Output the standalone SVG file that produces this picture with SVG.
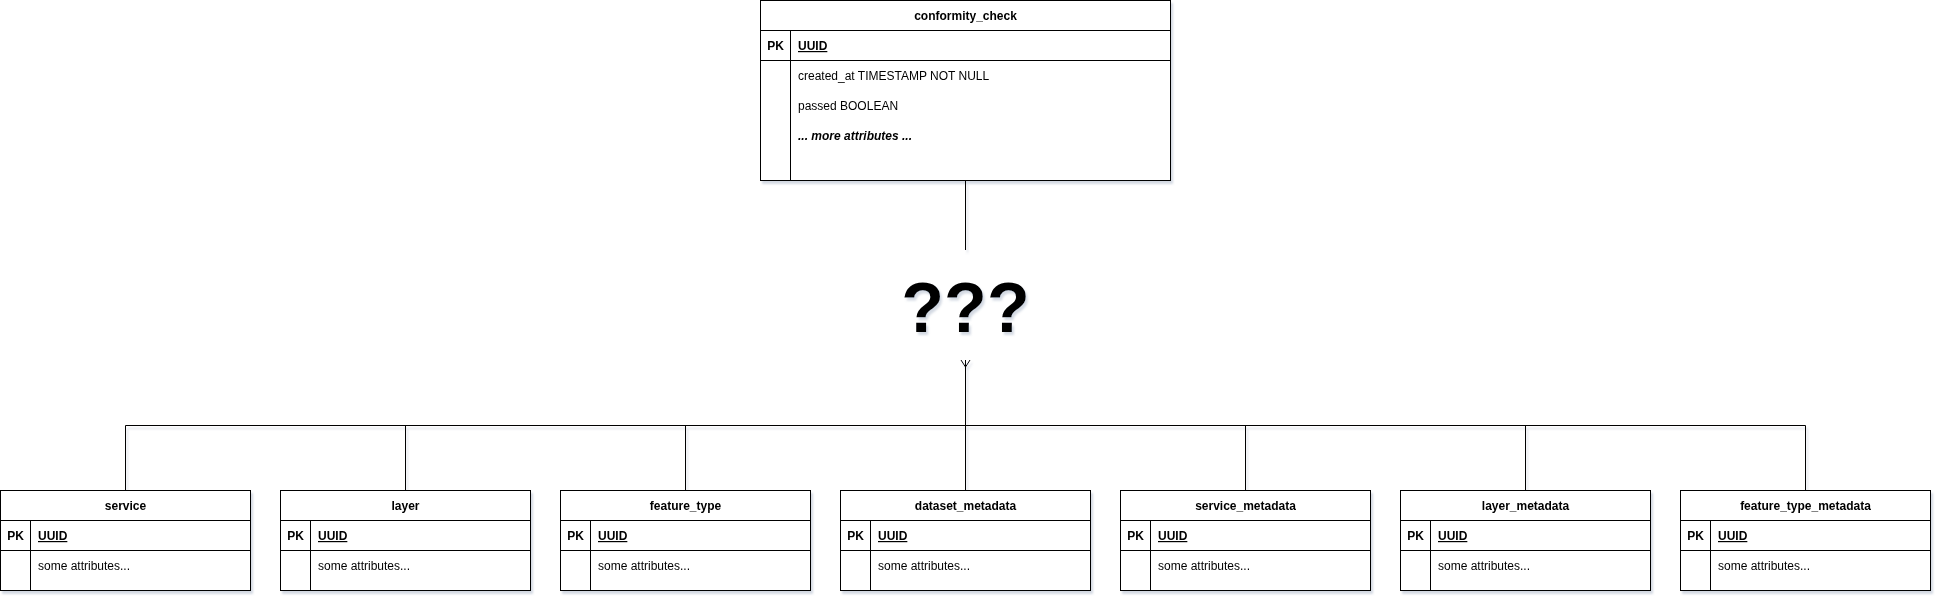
<svg xmlns="http://www.w3.org/2000/svg" width="1942" height="603" viewBox="0 0 1942 603">
  <style>
    .box { fill: #ffffff; stroke: #000000; stroke-width: 1; }
    .ln { stroke: #000000; stroke-width: 1; fill: none; }
    text { font-family: "Liberation Sans", Arial, Helvetica, sans-serif; font-size: 12px; fill: #000000; }
    .title { font-weight: bold; text-anchor: middle; }
    .pk { font-weight: bold; text-anchor: middle; }
    .key { font-weight: bold; text-decoration: underline; }
    .more { font-weight: bold; font-style: italic; }
    .qqq { font-size: 70px; font-weight: bold; text-anchor: middle; }
  </style>
  <defs>
    <filter id="sh" x="-5%" y="-5%" width="115%" height="120%">
      <feDropShadow dx="2" dy="3" stdDeviation="1.2" flood-color="#7080a0" flood-opacity="0.3"/>
    </filter>
    <marker id="many" markerUnits="userSpaceOnUse" markerWidth="12" markerHeight="10" viewBox="0 0 12 10" refX="6" refY="0" orient="0" overflow="visible">
      <path d="M1.5,0 L6,7 L10.5,0 M6,0 L6,7" stroke="#000" stroke-width="1" fill="none"/>
    </marker>
  </defs>

  <g filter="url(#sh)">
    <g id="connectors">
      <line class="ln" x1="965.5" y1="180.5" x2="965.5" y2="250"/>
      <path class="ln" d="M965.5,360 L965.5,425.5" marker-start="url(#many)"/>
      <line class="ln" x1="125.5" y1="425.5" x2="1805.5" y2="425.5"/>
      <line class="ln" x1="125.5" y1="425.5" x2="125.5" y2="490.5"/>
      <line class="ln" x1="405.5" y1="425.5" x2="405.5" y2="490.5"/>
      <line class="ln" x1="685.5" y1="425.5" x2="685.5" y2="490.5"/>
      <line class="ln" x1="965.5" y1="425.5" x2="965.5" y2="490.5"/>
      <line class="ln" x1="1245.5" y1="425.5" x2="1245.5" y2="490.5"/>
      <line class="ln" x1="1525.5" y1="425.5" x2="1525.5" y2="490.5"/>
      <line class="ln" x1="1805.5" y1="425.5" x2="1805.5" y2="490.5"/>
    </g>

    <g id="label-qqq">
      <text class="qqq" x="965.5" y="332">???</text>
    </g>

    <g id="conformity_check">
      <rect class="box" x="760.5" y="0.5" width="410" height="180"/>
      <line class="ln" x1="760.5" y1="30.5" x2="1170.5" y2="30.5"/>
      <line class="ln" x1="760.5" y1="60.5" x2="1170.5" y2="60.5"/>
      <line class="ln" x1="790.5" y1="30.5" x2="790.5" y2="180.5"/>
      <text class="title" x="965.5" y="20">conformity_check</text>
      <text class="pk" x="775.5" y="50">PK</text>
      <text class="key" x="798" y="50">UUID</text>
      <text x="798" y="80">created_at TIMESTAMP NOT NULL</text>
      <text x="798" y="110">passed BOOLEAN</text>
      <text class="more" x="798" y="140">... more attributes ...</text>
    </g>

    <g id="service" transform="translate(0,0)">
      <rect class="box" x="0.5" y="490.5" width="250" height="100"/>
      <line class="ln" x1="0.5" y1="520.5" x2="250.5" y2="520.5"/>
      <line class="ln" x1="0.5" y1="550.5" x2="250.5" y2="550.5"/>
      <line class="ln" x1="30.5" y1="520.5" x2="30.5" y2="590.5"/>
      <text class="title" x="125.5" y="510">service</text>
      <text class="pk" x="15.5" y="540">PK</text>
      <text class="key" x="38" y="540">UUID</text>
      <text x="38" y="570">some attributes...</text>
    </g>

    <g id="layer" transform="translate(280,0)">
      <rect class="box" x="0.5" y="490.5" width="250" height="100"/>
      <line class="ln" x1="0.5" y1="520.5" x2="250.5" y2="520.5"/>
      <line class="ln" x1="0.5" y1="550.5" x2="250.5" y2="550.5"/>
      <line class="ln" x1="30.5" y1="520.5" x2="30.5" y2="590.5"/>
      <text class="title" x="125.5" y="510">layer</text>
      <text class="pk" x="15.5" y="540">PK</text>
      <text class="key" x="38" y="540">UUID</text>
      <text x="38" y="570">some attributes...</text>
    </g>

    <g id="feature_type" transform="translate(560,0)">
      <rect class="box" x="0.5" y="490.5" width="250" height="100"/>
      <line class="ln" x1="0.5" y1="520.5" x2="250.5" y2="520.5"/>
      <line class="ln" x1="0.5" y1="550.5" x2="250.5" y2="550.5"/>
      <line class="ln" x1="30.5" y1="520.5" x2="30.5" y2="590.5"/>
      <text class="title" x="125.5" y="510">feature_type</text>
      <text class="pk" x="15.5" y="540">PK</text>
      <text class="key" x="38" y="540">UUID</text>
      <text x="38" y="570">some attributes...</text>
    </g>

    <g id="dataset_metadata" transform="translate(840,0)">
      <rect class="box" x="0.5" y="490.5" width="250" height="100"/>
      <line class="ln" x1="0.5" y1="520.5" x2="250.5" y2="520.5"/>
      <line class="ln" x1="0.5" y1="550.5" x2="250.5" y2="550.5"/>
      <line class="ln" x1="30.5" y1="520.5" x2="30.5" y2="590.5"/>
      <text class="title" x="125.5" y="510">dataset_metadata</text>
      <text class="pk" x="15.5" y="540">PK</text>
      <text class="key" x="38" y="540">UUID</text>
      <text x="38" y="570">some attributes...</text>
    </g>

    <g id="service_metadata" transform="translate(1120,0)">
      <rect class="box" x="0.5" y="490.5" width="250" height="100"/>
      <line class="ln" x1="0.5" y1="520.5" x2="250.5" y2="520.5"/>
      <line class="ln" x1="0.5" y1="550.5" x2="250.5" y2="550.5"/>
      <line class="ln" x1="30.5" y1="520.5" x2="30.5" y2="590.5"/>
      <text class="title" x="125.5" y="510">service_metadata</text>
      <text class="pk" x="15.5" y="540">PK</text>
      <text class="key" x="38" y="540">UUID</text>
      <text x="38" y="570">some attributes...</text>
    </g>

    <g id="layer_metadata" transform="translate(1400,0)">
      <rect class="box" x="0.5" y="490.5" width="250" height="100"/>
      <line class="ln" x1="0.5" y1="520.5" x2="250.5" y2="520.5"/>
      <line class="ln" x1="0.5" y1="550.5" x2="250.5" y2="550.5"/>
      <line class="ln" x1="30.5" y1="520.5" x2="30.5" y2="590.5"/>
      <text class="title" x="125.5" y="510">layer_metadata</text>
      <text class="pk" x="15.5" y="540">PK</text>
      <text class="key" x="38" y="540">UUID</text>
      <text x="38" y="570">some attributes...</text>
    </g>

    <g id="feature_type_metadata" transform="translate(1680,0)">
      <rect class="box" x="0.5" y="490.5" width="250" height="100"/>
      <line class="ln" x1="0.5" y1="520.5" x2="250.5" y2="520.5"/>
      <line class="ln" x1="0.5" y1="550.5" x2="250.5" y2="550.5"/>
      <line class="ln" x1="30.5" y1="520.5" x2="30.5" y2="590.5"/>
      <text class="title" x="125.5" y="510">feature_type_metadata</text>
      <text class="pk" x="15.5" y="540">PK</text>
      <text class="key" x="38" y="540">UUID</text>
      <text x="38" y="570">some attributes...</text>
    </g>
  </g>
</svg>
